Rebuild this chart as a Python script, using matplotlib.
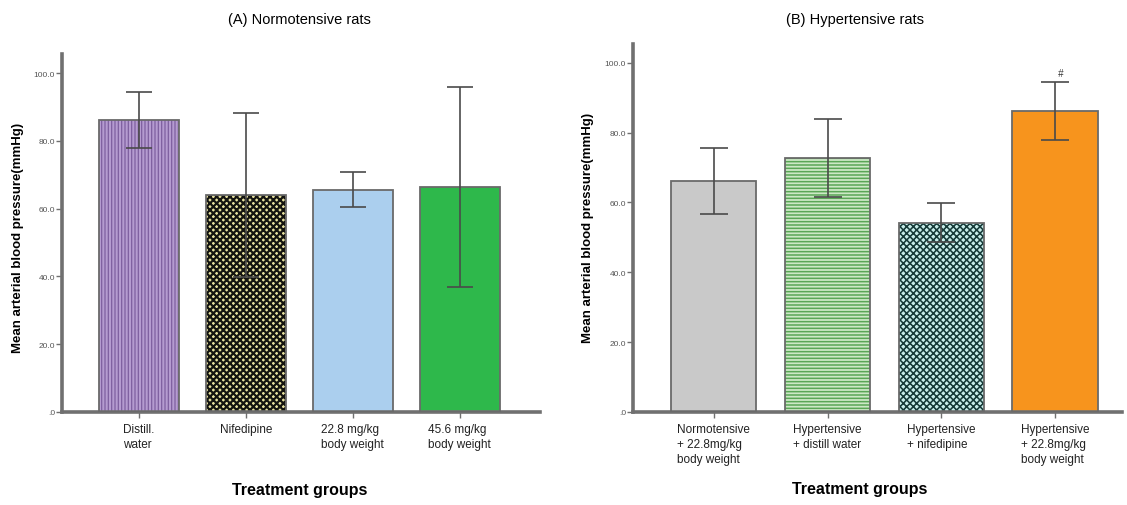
import numpy as np
import matplotlib
matplotlib.use("Agg")
import matplotlib.pyplot as plt

plt.rcParams['font.family'] = ['Liberation Sans', 'DejaVu Sans']

# (A) normotensive rats
groups_a = ["Distill.\nwater", "Nifedipine", "22.8 mg/kg\nbody weight", "45.6 mg/kg\nbody weight"]
mean_a = [86.1, 64.0, 65.6, 66.4]
err_a = [8.2, 24.2, 5.2, 29.4]

# (B) hypertensive rats
groups_b = ["Normotensive\n+ 22.8mg/kg\nbody weight", "Hypertensive\n+ distill water",
            "Hypertensive\n+ nifedipine", "Hypertensive\n+ 22.8mg/kg\nbody weight"]
mean_b = [66.2, 72.8, 54.2, 86.3]
err_b = [9.4, 11.2, 5.6, 8.3]

yticks = [0, 20, 40, 60, 80, 100]
ytick_labels = [".0", "20.0", "40.0", "60.0", "80.0", "100.0"]

# fill colour, hatch, hatch colour, hatch width
style_a = [("#b59bd0", "|||||", "#7e5f9f", 0.9),
           ("#e8e2a0", "xxxxx", "#141410", 1.6),
           ("#abcfee", "", None, 0),
           ("#2eb84b", "", None, 0)]
style_b = [("#c9c9c9", "", None, 0),
           ("#cde8c6", "-----", "#5aa656", 1.1),
           ("#c8eeea", "xxxxx", "#163a38", 1.15),
           ("#f7941d", "", None, 0)]

fig = plt.figure(figsize=(11.27, 5.06), dpi=100)
ax1 = fig.add_axes([0.055, 0.184, 0.424, 0.707])
ax2 = fig.add_axes([0.5617, 0.184, 0.434, 0.727])

spine_c = "#707070"
edge_c = "#6a6a6a"
err_c = "#4a4a4a"


def draw(ax, labels, means, errs, styles, xlim, ylim, cap):
    x = np.arange(len(means))
    for i in range(len(means)):
        fc, h, hc, hw = styles[i]
        if h:
            plt.rcParams['hatch.linewidth'] = hw
            b = ax.bar(x[i], means[i], 0.75, color=fc, hatch=h, edgecolor=hc, linewidth=0, zorder=2)
            for p in b:
                if hasattr(p, "set_hatch_linewidth"):
                    p.set_hatch_linewidth(hw)
        else:
            ax.bar(x[i], means[i], 0.75, color=fc, linewidth=0, zorder=2)
        ax.bar(x[i], means[i], 0.75, fill=False, edgecolor=edge_c, linewidth=1.3, zorder=3)
    ax.errorbar(x, means, yerr=errs, fmt="none", ecolor=err_c, elinewidth=1.2,
                capsize=cap, capthick=1.2, zorder=4)
    ax.set_xlim(*xlim)
    ax.set_ylim(*ylim)
    ax.set_xticks(x)
    ax.set_xticklabels(labels, fontsize=8.5, color="#222222", linespacing=1.35,
                       multialignment="left")
    ax.set_yticks(yticks)
    ax.set_yticklabels(ytick_labels, fontsize=6, color="#555555")
    for s in ["top", "right"]:
        ax.spines[s].set_visible(False)
    for s in ["left", "bottom"]:
        ax.spines[s].set_color(spine_c)
        ax.spines[s].set_linewidth(2.6)
    ax.tick_params(axis="y", length=4, width=1, color=spine_c, pad=1)
    ax.tick_params(axis="x", length=4, width=1, color=spine_c, pad=4)


draw(ax1, groups_a, mean_a, err_a, style_a, (-0.72, 3.75), (0, 105.6), 9.5)
draw(ax2, groups_b, mean_b, err_b, style_b, (-0.71, 3.59), (0, 105.4), 10)

ax2.text(3.05, mean_b[3] + err_b[3] + 1.0, "#", fontsize=7, ha="center", va="bottom",
         color="#333333", style="italic")

fig.text(0.266, 0.96, "(A) Normotensive rats", fontsize=10.5, ha="center", va="center")
fig.text(0.759, 0.96, "(B) Hypertensive rats", fontsize=10.5, ha="center", va="center")
fig.text(0.266, 0.03, "Treatment groups", fontsize=11.5, fontweight="bold", ha="center", va="center")
fig.text(0.763, 0.032, "Treatment groups", fontsize=11.5, fontweight="bold", ha="center", va="center")
fig.text(0.016, 0.53, "Mean arterial blood pressure(mmHg)", fontsize=9.5, fontweight="bold",
         rotation=90, ha="center", va="center")
fig.text(0.522, 0.55, "Mean arterial blood pressure(mmHg)", fontsize=9.5, fontweight="bold",
         rotation=90, ha="center", va="center")

fig.savefig("out.png", dpi=100)
